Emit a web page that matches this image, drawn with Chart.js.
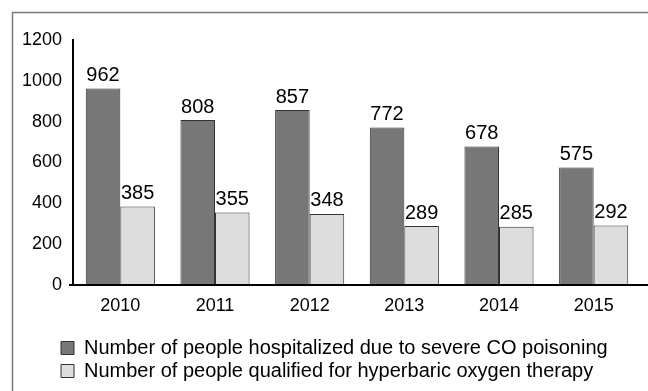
<!DOCTYPE html>
<html>
<head>
<meta charset="utf-8">
<script src="https://cdn.jsdelivr.net/npm/chart.js@4"></script>
<style>
  html, body { margin: 0; padding: 0; background: #ffffff; }
  #wrap { width: 648px; height: 391px; position: relative; }
</style>
</head>
<body>
<div id="wrap"><canvas id="chart1"></canvas></div>
<script>
const years = ["2010", "2011", "2012", "2013", "2014", "2015"];
const hospitalized = [962, 808, 857, 772, 678, 575];
const qualified = [385, 355, 348, 289, 285, 292];
const seriesNames = [
  "Number of people hospitalized due to severe CO poisoning",
  "Number of people qualified for hyperbaric oxygen therapy",
];
const yTicks = [0, 200, 400, 600, 800, 1000, 1200];

const fontFamily = "'Liberation Sans', Arial, sans-serif";

// gray frame + x axis line running to the right edge
const framePlugin = {
  id: "frame",
  afterLayout(chart) {
    // legend rows start under the y axis labels, like the original
    chart.legend.left = 58;
  },
  beforeDraw(chart) {
    const ctx = chart.ctx;
    ctx.save();
    ctx.fillStyle = "#ffffff";
    ctx.fillRect(0, 0, chart.width, chart.height);
    ctx.strokeStyle = "#7a7a7a";
    ctx.lineWidth = 1.5;
    ctx.beginPath();
    ctx.moveTo(12.5, chart.height);
    ctx.lineTo(12.5, 12.5);
    ctx.lineTo(chart.width, 12.5);
    ctx.stroke();
    ctx.restore();
  },
  afterDatasetsDraw(chart) {
    const ctx = chart.ctx;
    const y = chart.scales.y.getPixelForValue(0);
    ctx.save();
    ctx.strokeStyle = "#000000";
    ctx.lineWidth = 2;
    ctx.beginPath();
    ctx.moveTo(chart.chartArea.left - 4, y);
    ctx.lineTo(chart.width, y);
    ctx.stroke();
    ctx.restore();
  },
};

// value labels above bars
const valueLabels = {
  id: "valueLabels",
  afterDatasetsDraw(chart) {
    const ctx = chart.ctx;
    ctx.save();
    ctx.font = "20px " + fontFamily;
    ctx.fillStyle = "#000000";
    ctx.textAlign = "center";
    ctx.textBaseline = "bottom";
    chart.data.datasets.forEach(function (ds, i) {
      chart.getDatasetMeta(i).data.forEach(function (bar, j) {
        ctx.fillText(ds.data[j], bar.x, bar.y - 3);
      });
    });
    ctx.restore();
  },
};

new Chart(document.getElementById("chart1"), {
  type: "bar",
  data: {
    labels: years,
    datasets: [
      {
        label: seriesNames[0],
        data: hospitalized,
        backgroundColor: "#777777",
        borderColor: "#333333",
        borderWidth: 1,
      },
      {
        label: seriesNames[1],
        data: qualified,
        backgroundColor: "#dddddd",
        borderColor: "#333333",
        borderWidth: 1,
      },
    ],
  },
  options: {
    responsive: true,
    maintainAspectRatio: false,
    animation: false,
    layout: { padding: { left: 10, right: 7, top: 40, bottom: 0 } },
    datasets: { bar: { categoryPercentage: 0.73, barPercentage: 1 } },
    scales: {
      x: {
        grid: { display: false, drawTicks: false },
        border: { display: false },
        ticks: { color: "#000", padding: 10, font: { family: fontFamily, size: 18 } },
        afterFit: function (s) { s.height = 50; },
      },
      y: {
        min: 0,
        max: 1200,
        grid: { display: false, drawTicks: false },
        border: { display: true, color: "#000", width: 2 },
        afterBuildTicks: function (s) { s.ticks = yTicks.map(function (v) { return { value: v }; }); },
        ticks: {
          color: "#000",
          padding: 11,
          font: { family: fontFamily, size: 18 },
          callback: function (v) { return String(v); },
        },
        afterFit: function (s) { s.width = 63; },
      },
    },
    plugins: {
      legend: {
        position: "bottom",
        align: "start",
        labels: {
          color: "#000",
          boxWidth: 13,
          boxHeight: 13,
          padding: 3,
          font: { family: fontFamily, size: 20 },
        },
      },
      tooltip: { enabled: false },
    },
  },
  plugins: [framePlugin, valueLabels],
});
</script>
</body>
</html>
